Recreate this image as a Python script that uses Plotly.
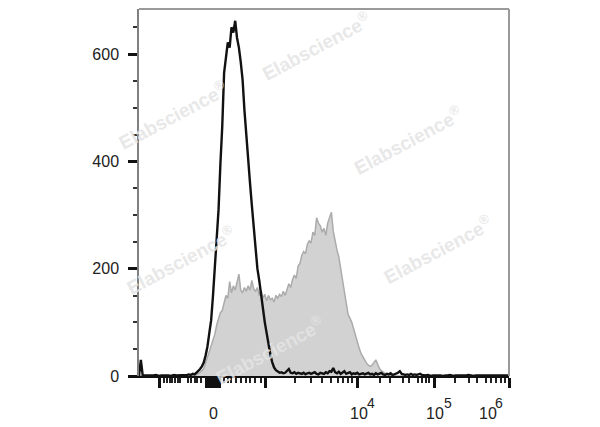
import numpy as np
import plotly.graph_objects as go

# ---------------- data (display channel units 0..100 on a biexponential axis) ----------------
BIN_STEP = 0.5

# unstained / isotype (black outline)
BLACK_COUNTS = [
    0, 30, 1,
    1, 0, 1, 1, 0, 1, 2, 1, 0, 1, 1, 2, 1, 1, 0, 1, 2, 1, 1, 2, 1, 2,
    2, 2, 3, 2, 4, 3, 6, 9, 13, 18, 25, 38, 55, 80, 104, 150, 200, 255, 310, 395,
    465, 565, 590, 622, 612, 650, 640, 662, 630, 612, 585, 552, 495, 445, 405, 360,
    318, 282, 235, 200, 178, 150, 128, 100, 80, 58, 40, 26, 16, 11, 8,
    6, 7, 5, 6, 9, 13, 6, 5, 7, 4, 6, 5, 4, 6, 3, 5, 6, 4, 5, 7, 4, 3, 6, 5, 4, 7,
    5, 9, 8, 15, 7, 5, 8, 4, 6, 9, 4, 5, 7, 3, 5, 4, 6, 3, 4, 5, 3, 4, 6, 3, 4, 2,
    5, 3, 4, 6, 3, 2, 4, 3, 5, 2, 3, 4, 6, 9, 4, 3, 2, 3, 2, 4, 2, 3, 2, 3, 4,
    2, 1, 1, 2, 1, 0, 1, 1, 2, 1, 1, 0, 1, 1, 1, 2, 1, 0, 1, 1, 1, 1, 0, 1, 1, 2,
    1, 1, 0, 1, 1, 1, 1, 0, 1, 1, 1, 0, 1, 1, 1, 1, 0, 1, 1, 1, 0, 1,
]

# stained sample (grey filled)
GRAY_COUNTS = [0] * 30 + [
    0, 2, 4, 7, 10, 14, 24, 35, 45, 58, 66, 78, 95, 108, 118, 122, 138, 150, 145, 176,
    155, 168, 160, 175, 190, 160, 155, 165, 158, 168, 160, 178, 162, 158, 165, 150,
    160, 145, 152, 140, 150, 142, 145, 138, 150, 145, 152, 148, 158, 150, 162, 172,
    165, 180, 188, 182, 205, 210, 225, 232, 228, 245, 252, 248, 268, 262, 295, 285,
    280, 268, 275, 262, 285, 295, 305, 270, 248, 235, 222, 200, 180, 165, 140, 115,
    108, 100, 88, 75, 65, 52, 42, 35, 28, 24, 20, 18, 20, 24, 30, 22, 14, 10, 7, 5,
    3, 2, 1, 0, 0, 0, 0, 0, 0, 0,
]

# axis ticks (display channel units)
X_MAJOR_TICKS = [5.5, 18.2, 18.65, 19.06, 19.48, 19.89, 20.3, 20.72, 21.13, 21.55, 21.82,
                 34.25, 59.1, 79.8, 100.0]
X_MINOR_TICKS = [6.7, 7.65, 8.37, 9.03, 9.75, 10.41, 11.13, 13.18, 14.09, 15.0, 15.75, 16.66,
                 22.85, 23.95, 24.94, 26.24, 27.62, 29.0, 29.92, 31.41, 32.96,
                 42.27, 46.41, 49.45, 51.93, 53.87, 55.25, 56.35, 57.46,
                 65.19, 67.96, 71.27, 72.93, 75.41, 76.52, 77.62, 78.45,
                 85.36, 89.23, 91.44, 93.65, 95.03, 96.41, 97.79, 98.9]
# tick label text: base and exponent are placed separately (FlowJo style)
X_LABEL_BASE = ["0", "10", "10", "10"]
X_LABEL_EXP = ["", "4", "5", "6"]
X_LABEL_BASE_POS = [20.2, 59.4, 80.0, 94.2]
X_LABEL_EXP_POS = [None, 62.6, 83.4, 97.4]

Y_TICKS = [0, 200, 400, 600]
Y_RANGE = [0, 684]
X_RANGE = [0, 100]

WATERMARK = "Elabscience<sup>®</sup>"
WM_POS = [(0.478, 0.900), (0.091, 0.710), (0.727, 0.643),
          (0.113, 0.315), (0.809, 0.345), (0.354, 0.070)]

# ---------------- figure ----------------
FONT = "Liberation Sans, Arial, sans-serif"
xb = np.arange(len(BLACK_COUNTS)) * BIN_STEP
xg = np.arange(len(GRAY_COUNTS)) * BIN_STEP

fig = go.Figure()
fig.add_trace(go.Scatter(
    x=xg, y=GRAY_COUNTS, mode="lines", fill="tozeroy",
    fillcolor="#d2d2d2", line=dict(color="#ababab", width=1.5),
    hoverinfo="skip", showlegend=False,
))
fig.add_trace(go.Scatter(
    x=xb, y=BLACK_COUNTS, mode="lines",
    line=dict(color="#111111", width=2.4),
    hoverinfo="skip", showlegend=False,
))

# page body has an 8px default margin, so the figure is 592x419
fig.update_layout(
    width=592, height=419,
    margin=dict(l=131, r=91, t=1, b=51),
    paper_bgcolor="white", plot_bgcolor="white",
    font=dict(family=FONT, size=16, color="#222"),
    showlegend=False,
)

fig.update_xaxes(
    range=X_RANGE, showgrid=False, zeroline=False,
    showline=True, linecolor="#111", linewidth=2,
    tickmode="array", tickvals=X_MAJOR_TICKS, ticks="outside",
    ticklen=10, tickwidth=2.5, tickcolor="#111", showticklabels=False,
    minor=dict(tickmode="array", tickvals=X_MINOR_TICKS, ticks="outside",
               ticklen=5, tickwidth=1.8, tickcolor="#222"),
)
fig.update_yaxes(
    range=Y_RANGE, showgrid=False, zeroline=False,
    showline=True, linecolor="#808080", linewidth=1.5,
    tickmode="array", tickvals=Y_TICKS, ticks="outside",
    ticklen=9, tickwidth=3, tickcolor="#111",
    ticklabelstandoff=6,
    tickfont=dict(family=FONT, size=16, color="#222"),
    minor=dict(dtick=50, ticks="outside", ticklen=4, tickwidth=2, tickcolor="#333"),
)

# frame (top & right borders)
fig.add_shape(type="line", xref="paper", yref="paper", x0=0, x1=1, y0=1, y1=1,
              line=dict(color="#9a9a9a", width=2))
fig.add_shape(type="line", xref="paper", yref="paper", x0=1, x1=1, y0=0, y1=1,
              line=dict(color="#9a9a9a", width=2))

# x tick labels
for base, bpos, exp, epos in zip(X_LABEL_BASE, X_LABEL_BASE_POS, X_LABEL_EXP, X_LABEL_EXP_POS):
    fig.add_annotation(
        x=bpos, xref="x", y=0, yref="paper", text=base, showarrow=False,
        xanchor="center", yanchor="middle", yshift=-37,
        font=dict(family=FONT, size=16, color="#222"),
    )
    if exp:
        fig.add_annotation(
            x=epos, xref="x", y=0, yref="paper", text=exp, showarrow=False,
            xanchor="center", yanchor="middle", yshift=-27,
            font=dict(family=FONT, size=14, color="#222"),
        )

# watermarks
for wx, wy in WM_POS:
    fig.add_annotation(
        x=wx, y=wy, xref="paper", yref="paper", text=WATERMARK, showarrow=False,
        textangle=-28, xanchor="center", yanchor="middle",
        font=dict(family=FONT, size=19, color="rgba(228,228,228,0.85)", weight="bold"),
    )

fig.write_html("out.html")
